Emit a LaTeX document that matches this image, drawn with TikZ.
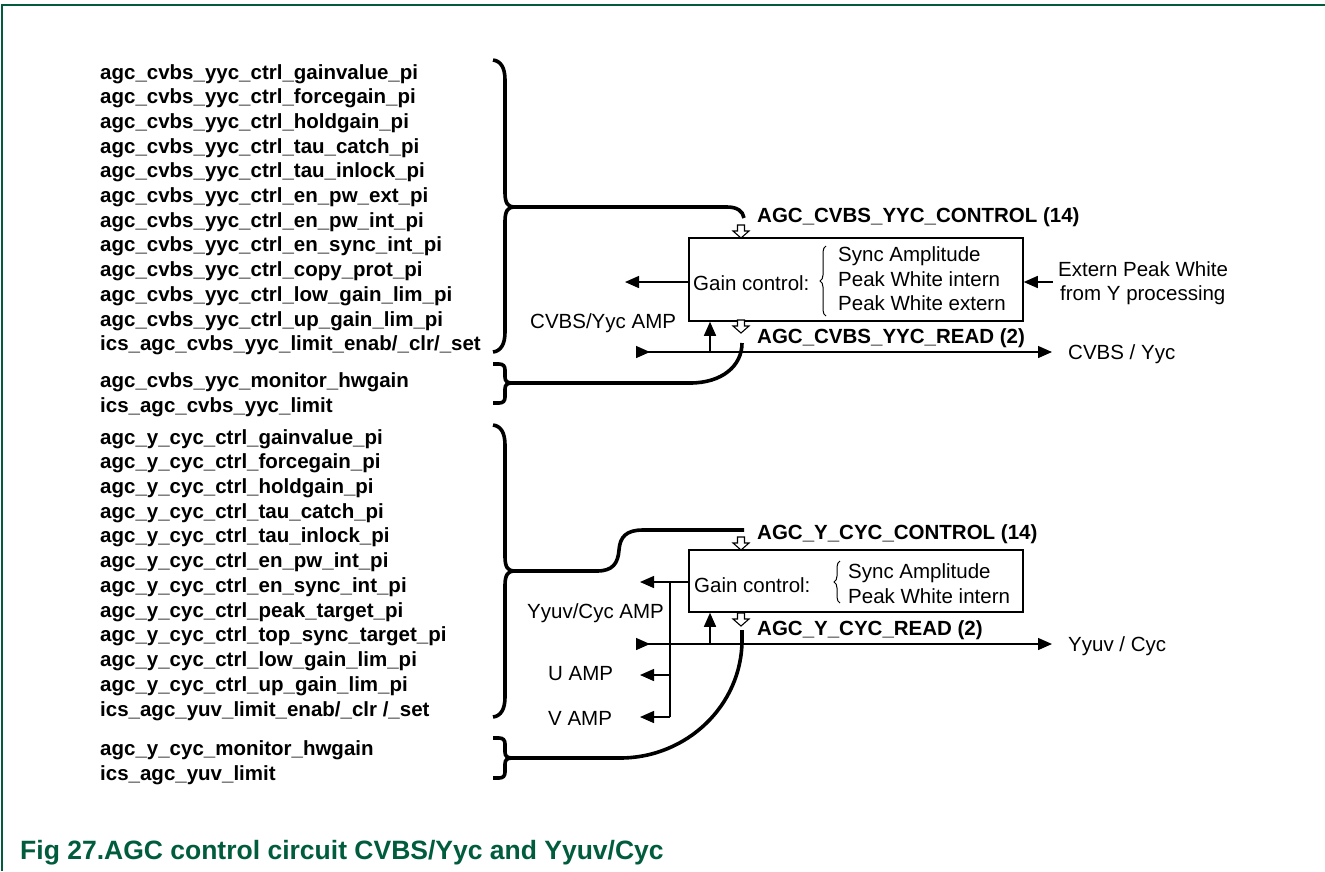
\documentclass[tikz,border=0pt]{standalone}
\usepackage{fontspec}
\setmainfont{Liberation Sans}
\usetikzlibrary{arrows.meta,decorations.pathreplacing}
\definecolor{nxpgreen}{RGB}{0,92,60}
\begin{document}
\begin{tikzpicture}[x=1pt,y=-1pt,
  lbl/.style={anchor=base west,inner sep=0pt,font=\fontsize{20.5}{24}\selectfont},
  blbl/.style={anchor=base west,inner sep=0pt,font=\fontsize{20.5}{24}\selectfont\bfseries},
  thk/.style={line width=3.6pt},
  thn/.style={line width=1.4pt},
  arr/.style={thn,-{Triangle[length=14pt,width=12pt]}},
  sig/.style={thn,{Triangle[reversed,length=14pt,width=12pt]}-{Triangle[length=14pt,width=12pt]}},
  gbox/.style={draw,line width=1.5pt,minimum width=334pt,inner sep=0pt},
  tbrace/.style={draw,line width=1pt,decorate,decoration={brace,amplitude=6pt}},
  hollow/.pic={\draw[line width=1.1pt,fill=white] (-3.5,0)--(3.5,0)--(3.5,6)--(8,6)--(0,13)--(-8,6)--(-3.5,6)--cycle;}
]
\useasboundingbox (0,0) rectangle (1325,871);
% frame
\draw[nxpgreen,line width=1.5pt] (2,871) -- (2,5) -- (1325,5);

% left lists
\foreach \t [count=\i] in {agc\_cvbs\_yyc\_ctrl\_gainvalue\_pi,agc\_cvbs\_yyc\_ctrl\_forcegain\_pi,agc\_cvbs\_yyc\_ctrl\_holdgain\_pi,agc\_cvbs\_yyc\_ctrl\_tau\_catch\_pi,agc\_cvbs\_yyc\_ctrl\_tau\_inlock\_pi,agc\_cvbs\_yyc\_ctrl\_en\_pw\_ext\_pi,agc\_cvbs\_yyc\_ctrl\_en\_pw\_int\_pi,agc\_cvbs\_yyc\_ctrl\_en\_sync\_int\_pi,agc\_cvbs\_yyc\_ctrl\_copy\_prot\_pi,agc\_cvbs\_yyc\_ctrl\_low\_gain\_lim\_pi,agc\_cvbs\_yyc\_ctrl\_up\_gain\_lim\_pi,ics\_agc\_cvbs\_yyc\_limit\_enab/\_clr/\_set}
  \node[blbl] (ga\i) at (100,{79+24.7*(\i-1)}) {\t};
\node[blbl] (gb1) at (100,387) {agc\_cvbs\_yyc\_monitor\_hwgain};
\node[blbl] (gb2) at (100,412) {ics\_agc\_cvbs\_yyc\_limit};
\foreach \t [count=\i] in {agc\_y\_cyc\_ctrl\_gainvalue\_pi,agc\_y\_cyc\_ctrl\_forcegain\_pi,agc\_y\_cyc\_ctrl\_holdgain\_pi,agc\_y\_cyc\_ctrl\_tau\_catch\_pi,agc\_y\_cyc\_ctrl\_tau\_inlock\_pi,agc\_y\_cyc\_ctrl\_en\_pw\_int\_pi,agc\_y\_cyc\_ctrl\_en\_sync\_int\_pi,agc\_y\_cyc\_ctrl\_peak\_target\_pi,agc\_y\_cyc\_ctrl\_top\_sync\_target\_pi,agc\_y\_cyc\_ctrl\_low\_gain\_lim\_pi,agc\_y\_cyc\_ctrl\_up\_gain\_lim\_pi,ics\_agc\_yuv\_limit\_enab/\_clr /\_set}
  \node[blbl] (gc\i) at (100,{444+24.73*(\i-1)}) {\t};
\node[blbl] (gd1) at (100,755) {agc\_y\_cyc\_monitor\_hwgain};
\node[blbl] (gd2) at (100,780) {ics\_agc\_yuv\_limit};

% brace tips
\coordinate (t1) at (514,207);
\coordinate (t2) at (512,383);
\coordinate (t3) at (514,571);
\coordinate (t4) at (512,758);

% big brace 1
\draw[thk] (493,60) .. controls (501,61) and (505,68) .. (505,80) -- (505,193)
  .. controls (505,203) and (508,207) .. (t1)
  .. controls (508,207) and (505,211) .. (505,221) -- (505,332)
  .. controls (505,344) and (501,351) .. (493,352);
% small brace 1
\draw[thk] (493,364) -- (499,364) .. controls (503,364) and (505,366) .. (505,370) -- (505,377)
  .. controls (505,381) and (507,383) .. (t2)
  .. controls (507,383) and (505,385) .. (505,389) -- (505,397)
  .. controls (505,401) and (503,403) .. (499,403) -- (493,403);
% big brace 2
\draw[thk] (493,425) .. controls (501,426) and (505,433) .. (505,445) -- (505,557)
  .. controls (505,567) and (508,571) .. (t3)
  .. controls (508,571) and (505,575) .. (505,585) -- (505,697)
  .. controls (505,709) and (501,716) .. (493,717);
% small brace 2
\draw[thk] (493,738) -- (499,738) .. controls (503,738) and (505,740) .. (505,744) -- (505,752)
  .. controls (505,756) and (507,758) .. (t4)
  .. controls (507,758) and (505,760) .. (505,764) -- (505,772)
  .. controls (505,776) and (503,778) .. (499,778) -- (493,778);

% ---------- block 1 ----------
\node[gbox,minimum height=83pt] (box1) at (856,279.5) {};
\node[lbl] (gc1) at (693,290) {Gain control:};
\draw[tbrace] (826,316) -- (826,246);
\node[lbl] (s1) at (838,261) {Sync Amplitude};
\node[lbl] (s2) at (838,286) {Peak White intern};
\node[lbl] (s3) at (838,310) {Peak White extern};
\node[blbl] (ctl1) at (757,222) {AGC\_CVBS\_YYC\_CONTROL (14)};
\node[blbl] (rd1) at (757,343) {AGC\_CVBS\_YYC\_READ (2)};
\node[lbl] (amp1) at (530,328) {CVBS/Yyc AMP};
\node[lbl] (ext1) at (1058,276) {Extern Peak White};
\node[lbl] (ext2) at (1060,300) {from Y processing};
\node[lbl] (out1) at (1068,359) {CVBS / Yyc};
\pic at (741,225) {hollow};
\pic at (741,320) {hollow};
\coordinate (a1) at (625,282);
\draw[arr] (box1.west |- a1) -- (a1);
\coordinate (e1) at (1053,282);
\draw[arr] (e1) -- (box1.east |- e1);
\coordinate (i1) at (636,352);
\coordinate (o1) at (1052,352);
\draw[sig] (i1) -- (o1);
\coordinate (j1) at (710,352);
\draw[arr] (j1) -- (j1 |- box1.south);
% thick connectors 1
\draw[thk] (t1) -- (727,207) .. controls (737,207) and (743,211) .. (744,218);
\draw[thk] (742,343) .. controls (742,366) and (722,383) .. (690,383) -- (t2);

% ---------- block 2 ----------
\node[gbox,minimum height=62pt] (box2) at (856,581) {};
\node[lbl] (gc2) at (694,592) {Gain control:};
\draw[tbrace] (840,603) -- (840,561);
\node[lbl] (y1) at (848,578) {Sync Amplitude};
\node[lbl] (y2) at (848,603) {Peak White intern};
\node[blbl] (ctl2) at (757,539) {AGC\_Y\_CYC\_CONTROL (14)};
\node[blbl] (rd2) at (757,635) {AGC\_Y\_CYC\_READ (2)};
\node[lbl] (amp2) at (527,618) {Yyuv/Cyc AMP};
\node[lbl] (uamp) at (548,680) {U AMP};
\node[lbl] (vamp) at (548,725) {V AMP};
\node[lbl] (out2) at (1068,651) {Yyuv / Cyc};
\pic at (741,537) {hollow};
\pic at (741,613) {hollow};
\coordinate (a2) at (640,582);
\draw[arr] (box2.west |- a2) -- (a2);
\coordinate (k1) at (670,582);
\coordinate (ua) at (640,675);
\coordinate (va) at (640,717);
\draw[thn] (k1) -- (k1 |- va);
\draw[arr] (k1 |- ua) -- (ua);
\draw[arr] (k1 |- va) -- (va);
\coordinate (i2) at (636,644);
\coordinate (o2) at (1052,644);
\draw[sig] (i2) -- (o2);
\coordinate (j2) at (710,644);
\draw[arr] (j2) -- (j2 |- box2.south);
% thick connectors 2
\draw[thk] (t3) -- (597,571) .. controls (613,571) and (618,563) .. (619,550)
  .. controls (620,537) and (626,530) .. (643,530) -- (744,530);
\draw[thk] (742,630) -- (742,640) .. controls (742,705) and (687,758) .. (620,758) -- (t4);

% caption
\node[anchor=base west,inner sep=0pt,font=\fontsize{26.5}{30}\selectfont\bfseries,text=nxpgreen] (cap) at (20,859) {Fig 27.AGC control circuit CVBS/Yyc and Yyuv/Cyc};
\end{tikzpicture}
\end{document}
